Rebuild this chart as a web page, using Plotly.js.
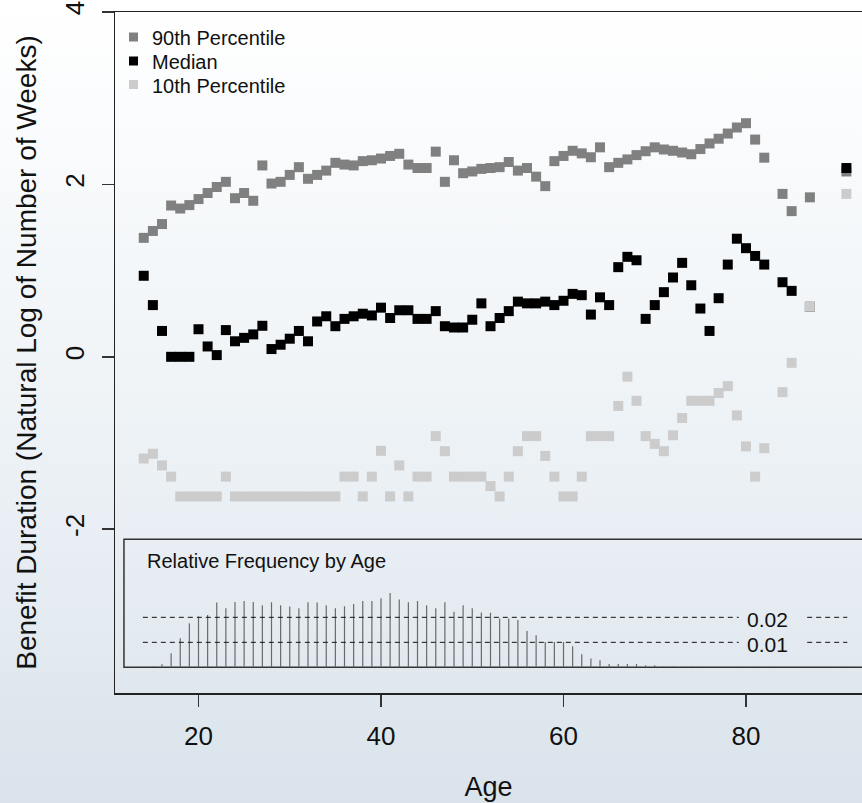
<!DOCTYPE html>
<html>
<head>
<meta charset="utf-8">
<script src="https://cdn.plot.ly/plotly-3.0.1.min.js"></script>
<style>
  html, body { margin: 0; padding: 0; }
  body { width: 862px; height: 803px; overflow: hidden;
         background: linear-gradient(180deg, #ffffff 0%, #f5f8fa 30%, #e9eff4 65%, #dae3eb 100%); }
  #chart { width: 862px; height: 803px; }
</style>
</head>
<body>
<div id="chart"></div>
<script>
// ---- data ----
const ages = [14,15,16,17,18,19,20,21,22,23,24,25,26,27,28,29,30,31,32,33,34,35,36,37,38,39,40,41,42,43,44,45,46,47,48,49,50,51,52,53,54,55,56,57,58,59,60,61,62,63,64,65,66,67,68,69,70,71,72,73,74,75,76,77,78,79,80,81,82,84,85,87,91];

const p90 = [1.38,1.46,1.54,1.755,1.72,1.76,1.83,1.90,1.97,2.03,1.84,1.90,1.81,2.22,2.01,2.03,2.11,2.20,2.065,2.11,2.16,2.25,2.23,2.22,2.27,2.28,2.30,2.33,2.355,2.23,2.19,2.19,2.38,2.03,2.28,2.13,2.15,2.18,2.19,2.20,2.26,2.16,2.19,2.09,1.98,2.27,2.33,2.39,2.36,2.315,2.43,2.20,2.25,2.29,2.34,2.385,2.43,2.405,2.39,2.37,2.35,2.41,2.475,2.53,2.59,2.66,2.71,2.52,2.31,1.89,1.69,1.85,2.15];

const median = [0.94,0.60,0.30,0,0,0,0.32,0.12,0.02,0.31,0.18,0.22,0.26,0.36,0.09,0.14,0.21,0.30,0.18,0.41,0.47,0.355,0.44,0.47,0.50,0.48,0.57,0.45,0.54,0.54,0.44,0.44,0.53,0.355,0.34,0.34,0.43,0.62,0.355,0.45,0.53,0.64,0.62,0.62,0.64,0.60,0.65,0.73,0.715,0.49,0.69,0.60,1.04,1.16,1.12,0.44,0.60,0.75,0.92,1.09,0.83,0.56,0.30,0.68,1.07,1.37,1.26,1.17,1.07,0.865,0.765,0.58,2.19];

const p10 = [-1.18,-1.125,-1.26,-1.39,-1.62,-1.62,-1.62,-1.62,-1.62,-1.39,-1.62,-1.62,-1.62,-1.62,-1.62,-1.62,-1.62,-1.62,-1.62,-1.62,-1.62,-1.62,-1.39,-1.39,-1.62,-1.39,-1.09,-1.62,-1.26,-1.62,-1.39,-1.39,-0.92,-1.095,-1.39,-1.39,-1.39,-1.39,-1.50,-1.62,-1.39,-1.095,-0.92,-0.92,-1.15,-1.39,-1.62,-1.62,-1.39,-0.92,-0.92,-0.92,-0.57,-0.23,-0.51,-0.92,-1.01,-1.095,-0.91,-0.71,-0.51,-0.51,-0.51,-0.42,-0.34,-0.68,-1.04,-1.39,-1.06,-0.41,-0.07,0.58,1.89];

const histAges = [12,13,14,15,16,17,18,19,20,21,22,23,24,25,26,27,28,29,30,31,32,33,34,35,36,37,38,39,40,41,42,43,44,45,46,47,48,49,50,51,52,53,54,55,56,57,58,59,60,61,62,63,64,65,66,67,68,69,70,71,72,73,74,75,76,77,78,79,80,81,82,83,84,85,86,87,88,89,90,91,92];
const histFreq = [0.0001,0.0001,0.0002,0.0003,0.0012,0.0056,0.0116,0.0176,0.0203,0.0209,0.0259,0.0236,0.0261,0.0265,0.0261,0.0248,0.0260,0.0248,0.0243,0.0236,0.0260,0.0259,0.0248,0.0236,0.0244,0.0253,0.0265,0.0265,0.0276,0.0297,0.0271,0.0260,0.0265,0.0248,0.0236,0.0260,0.0222,0.0248,0.0236,0.0219,0.0218,0.0195,0.0195,0.0189,0.0145,0.0128,0.0101,0.0101,0.0101,0.0084,0.0052,0.0035,0.0028,0.0013,0.0013,0.0013,0.0013,0.0008,0.0008,0.0004,0.0003,0.0003,0.0003,0.0002,0.0002,0.0002,0.0002,0.0002,0.0002,0.0002,0.0002,0.0002,0.0002,0.0002,0.0002,0.0002,0.0002,0.0002,0.0002,0.0002,0.0002];

const refLevels = [0.01, 0.02];
const refLabels = ['0.01', '0.02'];
const xTicks = [20, 40, 60, 80];
const yTicks = [-2, 0, 2, 4];
const yTickText = ['-2', '0', '2', '4'];

const seriesNames = ['90th Percentile', 'Median', '10th Percentile'];
const seriesColors = ['#808080', '#000000', '#cccccc'];

// ---- build ----
const FONT = 'Arial, "Liberation Sans", sans-serif';
const hx = [], hy = [];
histAges.forEach((a, i) => { hx.push(a, a, null); hy.push(0, histFreq[i], null); });

const seriesValues = [p90, median, p10];
const traces = [
  { x: hx, y: hy, type: 'scatter', mode: 'lines', xaxis: 'x', yaxis: 'y2',
    line: { color: '#6a6a6a', width: 1.2 }, showlegend: false, hoverinfo: 'skip' }
];
seriesValues.forEach((vals, i) => {
  traces.push({ x: ages, y: vals, type: 'scatter', mode: 'markers', name: seriesNames[i], showlegend: false,
    marker: { symbol: 'square', size: 10, color: seriesColors[i], line: { width: 0 } } });
});

const shapes = [
  { type: 'rect', xref: 'paper', yref: 'y2 domain', x0: 0.012, x1: 1.05, y0: 0, y1: 1,
    line: { color: '#333333', width: 1.5 }, fillcolor: 'rgba(0,0,0,0)', layer: 'below' }
];
refLevels.forEach(v => {
  shapes.push({ type: 'line', xref: 'x', yref: 'y2', x0: 13.9, x1: 79.2, y0: v, y1: v,
    line: { color: '#111111', width: 1, dash: '5px,4px' } });
  shapes.push({ type: 'line', xref: 'x', yref: 'y2', x0: 86.7, x1: 91.1, y0: v, y1: v,
    line: { color: '#111111', width: 1, dash: '5px,4px' } });
});

const annotations = [
  { text: 'Relative Frequency by Age', xref: 'paper', yref: 'paper', x: 0.0402, y: 0.1943,
    xanchor: 'left', yanchor: 'middle', showarrow: false, font: { family: FONT, size: 20, color: '#111' } }
];
refLevels.forEach((v, i) => {
  annotations.push({ text: refLabels[i], xref: 'x', yref: 'y2', x: 82.4, y: v, yshift: -2,
    xanchor: 'center', yanchor: 'middle', showarrow: false, font: { family: FONT, size: 21, color: '#111' } });
});

// manual legend (top-left inside plot)
const legX = (133.5 - 115) / 747, legTextX = (150 - 115) / 747;
const legRowsPx = [37, 61, 84.5];
legRowsPx.forEach((py, i) => {
  const yp = (693 - py) / 681;
  shapes.push({ type: 'rect', xref: 'paper', yref: 'paper', xsizemode: 'pixel', ysizemode: 'pixel',
    xanchor: legX, yanchor: yp, x0: -4.5, x1: 4.5, y0: -4.5, y1: 4.5,
    fillcolor: seriesColors[i], line: { width: 0 } });
  annotations.push({ text: seriesNames[i], xref: 'paper', yref: 'paper', x: legTextX, y: yp, yshift: -1,
    xanchor: 'left', yanchor: 'middle', showarrow: false, font: { family: FONT, size: 20, color: '#111' } });
});

const layout = {
  width: 862, height: 803,
  margin: { l: 115, r: 0, t: 12, b: 110, pad: 0 },
  paper_bgcolor: 'rgba(0,0,0,0)', plot_bgcolor: 'rgba(0,0,0,0)',
  font: { family: FONT, color: '#111' },
  showlegend: false,
  xaxis: { range: [10.85, 92.71], tickvals: xTicks, ticks: 'outside', ticklen: 12, tickwidth: 1.5,
           tickcolor: '#333', showline: true, mirror: true, linecolor: '#222', linewidth: 1.5,
           showgrid: false, zeroline: false, tickfont: { size: 26 }, ticklabelstandoff: 7,
           title: { text: 'Age', font: { size: 27 }, standoff: 27 }, anchor: 'y' },
  yaxis: { range: [-3.9, 4.0], tickvals: yTicks, ticktext: yTickText, ticks: 'outside', ticklen: 12, tickwidth: 1.5,
           tickcolor: '#333', showline: true, mirror: false, linecolor: '#222', linewidth: 1.5,
           showgrid: false, zeroline: false, tickfont: { size: 26 }, tickangle: -90, ticklabelstandoff: 7,
           title: { text: 'Benefit Duration (Natural Log of Number of Weeks)', font: { size: 28 }, standoff: 15 },
           domain: [0, 1] },
  yaxis2: { domain: [0.0377, 0.2257], range: [0, 0.0512], anchor: 'x', visible: false, showgrid: false, zeroline: false },
  shapes: shapes,
  annotations: annotations
};

Plotly.newPlot('chart', traces, layout, { displayModeBar: false, staticPlot: true });
</script>
</body>
</html>
